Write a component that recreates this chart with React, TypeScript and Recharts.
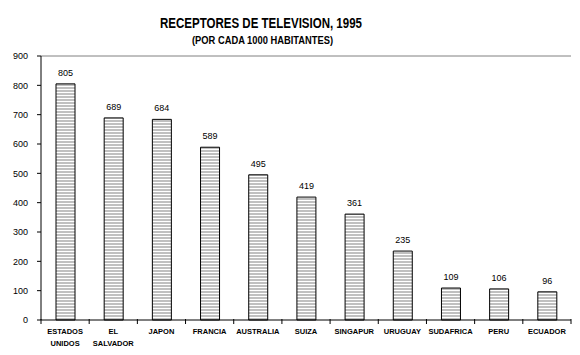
import { Bar, BarChart, LabelList, ReferenceLine, XAxis, YAxis } from 'recharts'

const countries = [
  'ESTADOS UNIDOS',
  'EL SALVADOR',
  'JAPON',
  'FRANCIA',
  'AUSTRALIA',
  'SUIZA',
  'SINGAPUR',
  'URUGUAY',
  'SUDAFRICA',
  'PERU',
  'ECUADOR',
]
const receivers = [805, 689, 684, 589, 495, 419, 361, 235, 109, 106, 96]
const yTicks = [0, 100, 200, 300, 400, 500, 600, 700, 800, 900]

const data = countries.map((name, i) => ({ name, value: receivers[i] }))

const W = 580
const H = 355
const LEFT = 41
const RIGHT = 9
const band = (W - LEFT - RIGHT) / countries.length

const plain = "'Liberation Sans', Arial, sans-serif"

function CountryTick(props: any) {
  const { x, y, payload, index } = props
  const lines = String(payload.value).split(' ')
  const last = index === countries.length - 1
  return (
    <g>
      <line x1={x - band / 2} y1={y - 1} x2={x - band / 2} y2={y + 4} stroke="#000" />
      {last && <line x1={x + band / 2} y1={y - 1} x2={x + band / 2} y2={y + 4} stroke="#000" />}
      {lines.map((l, i) => (
        <text
          key={i}
          x={x}
          y={y + 14 + i * 11.5}
          textAnchor="middle"
          fontSize={7.5}
          fontWeight="bold"
          fontFamily={plain}
          fill="#000"
        >
          {l}
        </text>
      ))}
    </g>
  )
}

export default function App() {
  return (
    <div style={{ position: 'absolute', left: 0, top: 0, width: W, height: H, background: '#fff' }}>
      <svg width={W} height={H} style={{ position: 'absolute', left: 0, top: 0 }}>
        <text
          x={160}
          y={28}
          fontSize={14}
          fontWeight="bold"
          fontFamily={plain}
          textLength={202}
          lengthAdjust="spacingAndGlyphs"
        >
          RECEPTORES DE TELEVISION, 1995
        </text>
        <text
          x={192}
          y={44}
          fontSize={10.5}
          fontWeight="bold"
          fontFamily={plain}
          textLength={141}
          lengthAdjust="spacingAndGlyphs"
        >
          (POR CADA 1000 HABITANTES)
        </text>
      </svg>
      <div style={{ position: 'absolute', left: 0, top: 0 }}>
        <BarChart
          width={W}
          height={H}
          data={data}
          margin={{ top: 56, right: RIGHT, bottom: 0, left: 0 }}
        >
          <defs>
            <pattern id="stripes" width="4" height="3" patternUnits="userSpaceOnUse">
              <rect width="4" height="3" fill="#fff" />
              <rect width="4" height="2" fill="#c0c0c0" />
            </pattern>
          </defs>
          <XAxis
            dataKey="name"
            interval={0}
            axisLine={{ stroke: '#000' }}
            tickLine={false}
            tickSize={0}
            tickMargin={0}
            tick={<CountryTick />}
            height={35}
          />
          <YAxis
            yAxisId="left"
            domain={[0, 900]}
            ticks={yTicks}
            width={LEFT}
            axisLine={{ stroke: '#000' }}
            tickLine={{ stroke: '#000' }}
            tickSize={4}
            tickMargin={9}
            tick={{ fontSize: 9, fill: '#000', fontFamily: plain }}
          />
          <YAxis
            yAxisId="right"
            orientation="right"
            domain={[0, 900]}
            width={0}
            tick={false}
            tickLine={false}
            axisLine={{ stroke: '#808080' }}
          />
          <ReferenceLine yAxisId="left" y={900} stroke="#808080" />
          <Bar
            yAxisId="left"
            dataKey="value"
            fill="url(#stripes)"
            stroke="#000"
            strokeWidth={1}
            barSize={19}
            isAnimationActive={false}
          >
            <LabelList
              dataKey="value"
              position="top"
              offset={8}
              fontSize={9}
              fill="#000"
              fontFamily={plain}
            />
          </Bar>
        </BarChart>
      </div>
    </div>
  )
}
